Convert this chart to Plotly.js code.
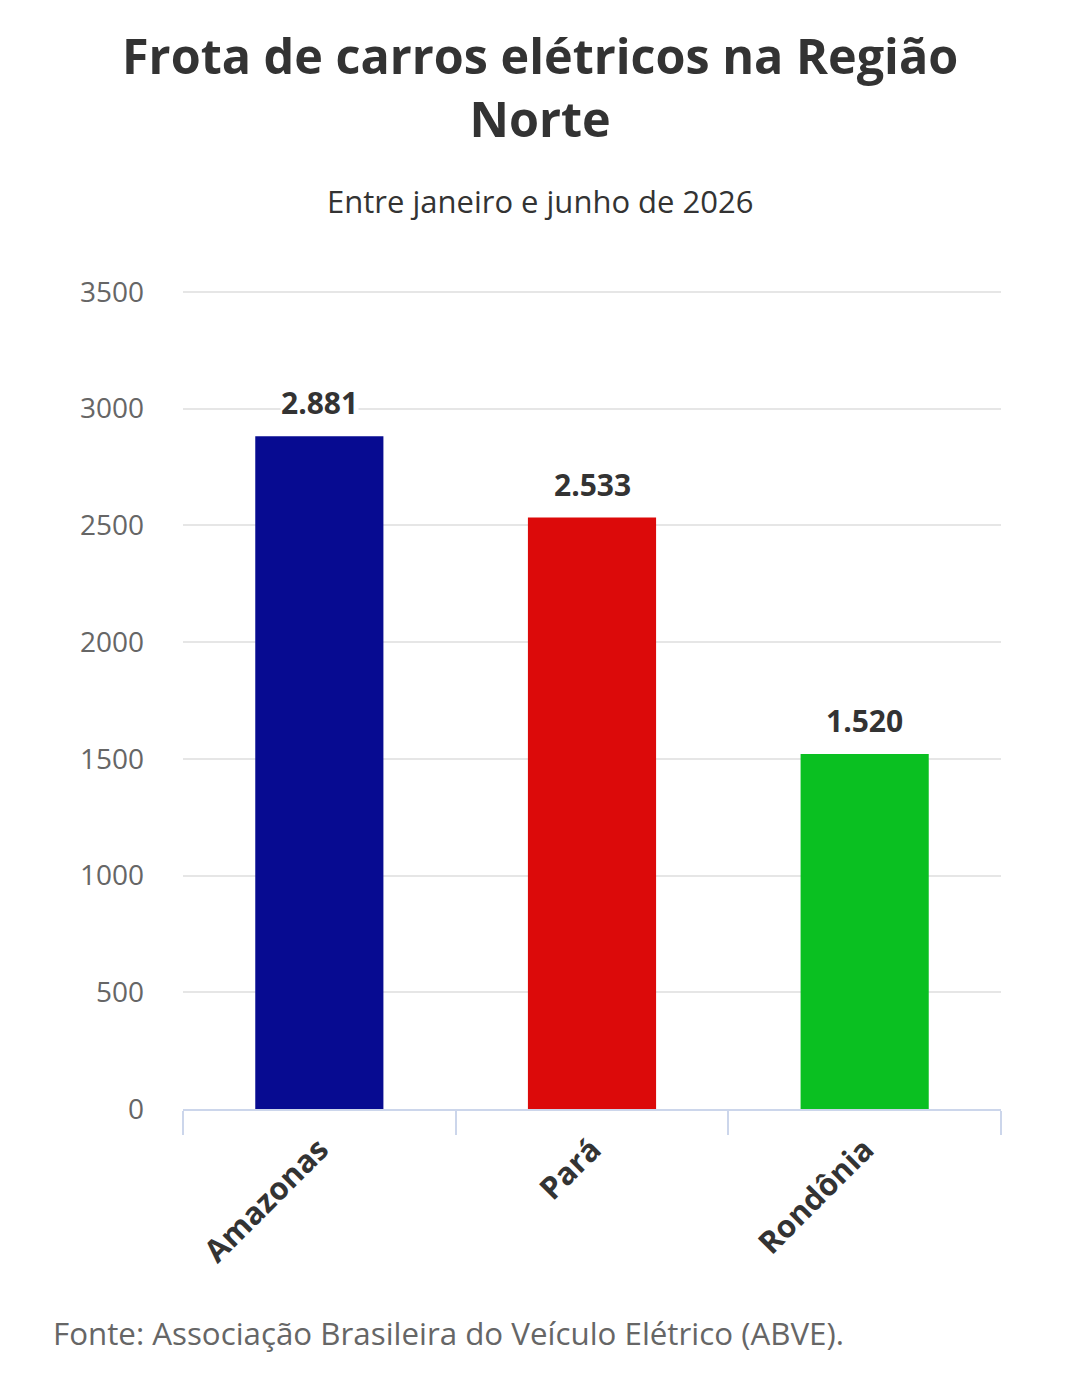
<!DOCTYPE html>
<html>
<head>
<meta charset="utf-8">
<script src="https://cdn.plot.ly/plotly-3.0.1.min.js"></script>
<style>
	html, body { margin: 0; padding: 0; background: #ffffff; }
	#chart { width: 1080px; height: 1392px; }
</style>
</head>
<body>
<div id="chart"></div>
<script>
// data
var estados = ["Amazonas", "Pará", "Rondônia"];
var frota = [2881, 2533, 1520];
var rotulos = ["2.881", "2.533", "1.520"];
var cores = ["#070b91", "#dc0a0a", "#0ac021"];

var fonte = "Open Sans, sans-serif";

// plot area in pixels, used to place the texts outside it
var plotLeft = 183, plotRight = 1001, plotTop = 289, plotBottom = 1109;
function px(x) { return (x - plotLeft) / (plotRight - plotLeft); }
function py(y) { return (plotBottom - y) / (plotBottom - plotTop); }

var trace = {
	type: "bar",
	x: estados,
	y: frota,
	marker: {color: cores},
	width: 0.47,
	hoverinfo: "none"
};

var anotacoes = [
	{
		text: "<b>Frota de carros elétricos na Região<br>Norte</b>",
		xref: "paper", yref: "paper",
		x: px(540), xanchor: "center",
		y: py(86), yanchor: "middle",
		showarrow: false,
		font: {family: fonte, size: 48.5, color: "#333333"}
	},
	{
		text: "Entre janeiro e junho de 2026",
		xref: "paper", yref: "paper",
		x: px(540), xanchor: "center",
		y: py(201), yanchor: "middle",
		showarrow: false,
		font: {family: fonte, size: 31, color: "#333333"}
	},
	{
		text: "Fonte: Associação Brasileira do Veículo Elétrico (ABVE).",
		xref: "paper", yref: "paper",
		x: px(51), xanchor: "left",
		y: py(1333), yanchor: "middle",
		showarrow: false,
		font: {family: fonte, size: 31.3, color: "#666666"}
	}
];

// value labels above each bar
for (var i = 0; i < estados.length; i++) {
	anotacoes.push({
		text: "<b>" + rotulos[i] + "</b>",
		x: estados[i],
		y: frota[i],
		xref: "x", yref: "y",
		yanchor: "bottom",
		yshift: 12,
		showarrow: false,
		bgcolor: "#ffffff",
		borderpad: 0,
		font: {family: fonte, size: 30, color: "#333333"}
	});
}

var layout = {
	width: 1080,
	height: 1392,
	paper_bgcolor: "#ffffff",
	plot_bgcolor: "#ffffff",
	font: {family: fonte, color: "#333333"},
	showlegend: false,
	margin: {l: plotLeft, r: 1080 - plotRight, t: plotTop, b: 1392 - plotBottom},
	xaxis: {
		type: "category",
		tickson: "boundaries",
		ticks: "outside",
		ticklen: 24,
		tickwidth: 2,
		tickcolor: "#ccd6eb",
		showline: true,
		linecolor: "#ccd6eb",
		linewidth: 2,
		showgrid: false,
		tickangle: -45,
		ticklabelstandoff: 8,
		tickfont: {family: fonte, size: 31, color: "#333333", weight: "bold"}
	},
	yaxis: {
		range: [0, 3512],
		tickvals: [0, 500, 1000, 1500, 2000, 2500, 3000, 3500],
		showgrid: true,
		gridcolor: "#e6e6e6",
		gridwidth: 2,
		zeroline: false,
		ticks: "",
		ticklabelstandoff: 38,
		tickfont: {family: fonte, size: 28, color: "#666666"}
	},
	annotations: anotacoes
};

Plotly.newPlot("chart", [trace], layout, {displayModeBar: false, staticPlot: true});
</script>
</body>
</html>
